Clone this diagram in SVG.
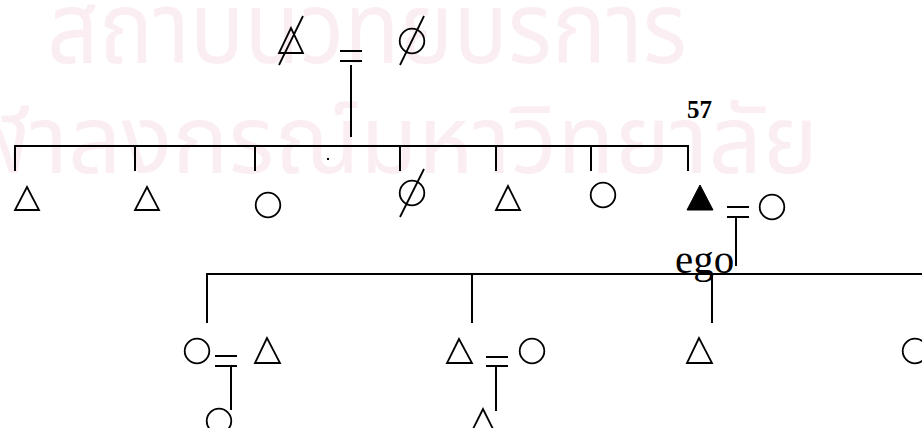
<svg xmlns="http://www.w3.org/2000/svg" width="922" height="428" viewBox="0 0 922 428">
<style>
.wm{font-family:"Noto Sans Thai","Noto Sans","DejaVu Sans",sans-serif;fill:#fbeef3}
.ln{stroke:#000;stroke-width:2;fill:none}
.sym{stroke:#000;stroke-width:1.8;fill:none}
.fill{fill:#000;stroke:#000;stroke-width:1}
.lbl{font-family:"Liberation Serif","Times New Roman",serif;fill:#000}
</style>
<rect width="922" height="428" fill="#fff"/>
<g id="watermark">
<text class="wm" x="47" y="63" font-size="100" textLength="640" lengthAdjust="spacingAndGlyphs">สถาบันวิทยบริการ</text>
<text class="wm" x="818" y="173" font-size="94" text-anchor="end">จุฬาลงกรณ์มหาวิทยาลัย</text>
</g>
<g id="connectors">
<path class="ln" d="M340 51H362M340 61H362M351 65V137"/>
<path class="ln" d="M15 171V146H688V171M135 146V171M255 146V171M400 146V171M496 146V171M591 146V171"/>
<rect x="327" y="158" width="2" height="2" fill="#000"/>
<path class="ln" d="M727 207H749M727 217H749M736 217V266"/>
<path class="ln" d="M207 323V274H922M472 274V323M712 274V323"/>
<path class="ln" d="M215 356H237M215 366H237M231 366V410"/>
<path class="ln" d="M486 357H508M486 366H508M496 366V411"/>
</g>
<g id="gf-deceased-male"><path class="sym" d="M291 28L279 53H303Z M279 65L303 16"/></g>
<g id="gm-deceased-female"><circle class="sym" cx="412" cy="41" r="12.3"/><path class="sym" d="M400 65L424 16"/></g>
<g id="sib1"><path class="sym" d="M27 187L15 210H39Z"/></g>
<g id="sib2"><path class="sym" d="M147 187L135 210H159Z"/></g>
<g id="sib3"><circle class="sym" cx="268" cy="205" r="12.3"/></g>
<g id="sib4"><circle class="sym" cx="412" cy="193" r="12.3"/><path class="sym" d="M400 217L424 169"/></g>
<g id="sib5"><path class="sym" d="M508 186L496 210H520Z"/></g>
<g id="sib6"><circle class="sym" cx="603" cy="195" r="12.3"/></g>
<g id="ego"><path class="fill" d="M700 185L687 210H713Z"/><text class="lbl" x="687" y="118" font-size="25" font-weight="bold">57</text><text class="lbl" x="675" y="273" font-size="41">ego</text></g>
<g id="ego-wife"><circle class="sym" cx="772" cy="207" r="12.3"/></g>
<g id="child1"><circle class="sym" cx="197" cy="351" r="12.3"/></g>
<g id="child1-husband"><path class="sym" d="M267 338L255 363H280Z"/></g>
<g id="grandchild1"><circle class="sym" cx="219" cy="421" r="12.3"/></g>
<g id="child2"><path class="sym" d="M459 339L447 363H472Z"/></g>
<g id="child2-wife"><circle class="sym" cx="532" cy="351" r="12.3"/></g>
<g id="grandchild2"><path class="sym" d="M483 409L471 433H495Z"/></g>
<g id="child3"><path class="sym" d="M699 338L687 363H712Z"/></g>
<g id="child4"><circle class="sym" cx="915" cy="351" r="12.3"/></g>
</svg>
